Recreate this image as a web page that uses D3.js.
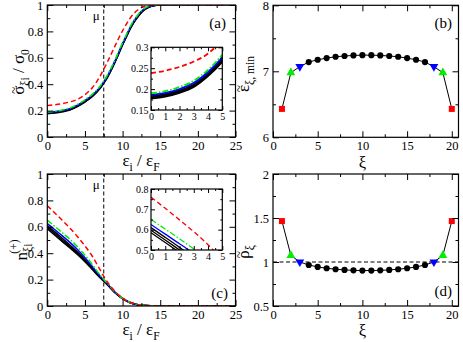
<!DOCTYPE html>
<html>
<head>
<meta charset="utf-8">
<script src="https://cdn.jsdelivr.net/npm/d3@7"></script>
<style>
body { margin: 0; background: #fff; }
text { font-family: "Liberation Serif", "DejaVu Serif", serif; fill: #000; }
</style>
</head>
<body>
<svg id="fig" width="463" height="342"></svg>
<script>
// ---- data ----
// panel (a): sigma~ / sigma0 vs eps_i / eps_F
var sigEps = [0, 1, 2, 3, 4, 5, 6, 7, 7.5, 8, 8.5, 9, 9.5, 10, 10.5, 11, 11.5, 12, 12.5, 13, 13.5, 14, 15, 25];
var sigBlackLo = [0.177, 0.182, 0.191, 0.205, 0.231, 0.265, 0.307, 0.367, 0.407, 0.452, 0.507, 0.567, 0.632, 0.697, 0.757, 0.817, 0.867, 0.907, 0.942, 0.967, 0.983, 0.993, 1, 1];
var sigBlackMid = [0.180, 0.185, 0.194, 0.208, 0.234, 0.268, 0.310, 0.370, 0.410, 0.455, 0.510, 0.570, 0.635, 0.700, 0.760, 0.820, 0.870, 0.910, 0.945, 0.970, 0.985, 0.995, 1, 1];
var sigBlackHi = [0.183, 0.188, 0.197, 0.211, 0.237, 0.271, 0.313, 0.373, 0.413, 0.458, 0.513, 0.573, 0.638, 0.703, 0.763, 0.823, 0.873, 0.913, 0.948, 0.972, 0.987, 0.996, 1, 1];
var sigBlue = [0.186, 0.191, 0.200, 0.215, 0.241, 0.276, 0.318, 0.378, 0.418, 0.463, 0.518, 0.578, 0.643, 0.708, 0.768, 0.828, 0.878, 0.918, 0.952, 0.975, 0.989, 0.997, 1, 1];
var sigGreen = [0.190, 0.195, 0.205, 0.220, 0.246, 0.282, 0.325, 0.385, 0.425, 0.470, 0.525, 0.585, 0.650, 0.715, 0.775, 0.835, 0.884, 0.923, 0.956, 0.978, 0.990, 0.997, 1, 1];
var sigRed = [0.238, 0.244, 0.253, 0.266, 0.285, 0.320, 0.375, 0.460, 0.515, 0.570, 0.630, 0.690, 0.750, 0.805, 0.855, 0.900, 0.935, 0.962, 0.980, 0.990, 0.996, 0.999, 1, 1];

// panel (c): n(+) vs eps_i / eps_F
var nEps = [0, 1, 2, 3, 4, 5, 6, 7, 7.5, 8, 9, 10, 11, 12, 13, 14, 15, 25];
var nBlackLo = [0.585, 0.537, 0.488, 0.440, 0.390, 0.335, 0.275, 0.215, 0.188, 0.160, 0.100, 0.055, 0.025, 0.010, 0.003, 0.001, 0, 0];
var nBlackMid = [0.597, 0.549, 0.500, 0.451, 0.400, 0.343, 0.281, 0.218, 0.190, 0.161, 0.101, 0.055, 0.025, 0.010, 0.003, 0.001, 0, 0];
var nBlackHi = [0.610, 0.562, 0.513, 0.462, 0.410, 0.352, 0.288, 0.222, 0.193, 0.163, 0.102, 0.056, 0.026, 0.010, 0.003, 0.001, 0, 0];
var nBlue = [0.625, 0.578, 0.531, 0.482, 0.428, 0.366, 0.298, 0.228, 0.197, 0.166, 0.104, 0.057, 0.026, 0.010, 0.003, 0.001, 0, 0];
var nGreen = [0.650, 0.603, 0.555, 0.505, 0.449, 0.385, 0.312, 0.236, 0.202, 0.170, 0.106, 0.058, 0.027, 0.011, 0.004, 0.001, 0, 0];
var nRed = [0.760, 0.705, 0.648, 0.590, 0.526, 0.455, 0.375, 0.275, 0.225, 0.180, 0.110, 0.060, 0.028, 0.012, 0.004, 0.001, 0, 0];

var mu = 7.5;

// panels (b), (d): per-site values
var xi = [1, 2, 3, 4, 5, 6, 7, 8, 9, 10, 11, 12, 13, 14, 15, 16, 17, 18, 19, 20];
var epsMin = [6.43, 6.98, 7.07, 7.14, 7.175, 7.20, 7.22, 7.232, 7.24, 7.245, 7.245, 7.24, 7.232, 7.22, 7.20, 7.175, 7.14, 7.07, 6.98, 6.43];
var rho = [1.465, 1.075, 1.0, 0.966, 0.944, 0.929, 0.918, 0.910, 0.905, 0.903, 0.903, 0.905, 0.910, 0.918, 0.929, 0.944, 0.966, 1.0, 1.075, 1.465];
var siteKind = ["sq", "up", "dn", "c", "c", "c", "c", "c", "c", "c", "c", "c", "c", "c", "c", "c", "c", "dn", "up", "sq"];

var RED = "#ff0000", GREEN = "#00ee00", BLUE = "#0000ff";

var svg = d3.select("#fig");
var fmt = function(d) { return String(+d.toFixed(3)); };
var clipId = 0;

// xmgrace style box: ticks inside on all four sides
function box(g, x, y, o) {
  var xr = x.range(), yr = y.range();
  var fs = o.fs + "px";
  function ax(gen, vals, len, lab, tx, ty) {
    var a = g.append("g").attr("transform", "translate(" + tx + "," + ty + ")")
      .call(gen.tickValues(vals).tickSize(-len).tickPadding(o.pad).tickFormat(lab ? fmt : ""));
    a.select(".domain").remove();
    a.selectAll("line").attr("stroke", "#000");
    a.selectAll("text").style("font-size", fs).attr("font-family", null);
  }
  ax(d3.axisBottom(x), o.xMaj, o.maj, true, 0, yr[0]);
  ax(d3.axisBottom(x), o.xMin, o.min, false, 0, yr[0]);
  ax(d3.axisTop(x), o.xMaj, o.maj, false, 0, yr[1]);
  ax(d3.axisTop(x), o.xMin, o.min, false, 0, yr[1]);
  ax(d3.axisLeft(y), o.yMaj, o.maj, true, xr[0], 0);
  ax(d3.axisLeft(y), o.yMin, o.min, false, xr[0], 0);
  ax(d3.axisRight(y), o.yMaj, o.maj, false, xr[1], 0);
  ax(d3.axisRight(y), o.yMin, o.min, false, xr[1], 0);
  g.append("rect").attr("x", xr[0]).attr("y", yr[1])
    .attr("width", xr[1] - xr[0]).attr("height", yr[0] - yr[1])
    .attr("fill", "none").attr("stroke", "#000").attr("stroke-width", 1.2);
}

function clipped(g, x, y) {
  var id = "clip" + (clipId++);
  var xr = x.range(), yr = y.range();
  g.append("clipPath").attr("id", id).append("rect")
    .attr("x", xr[0]).attr("y", yr[1]).attr("width", xr[1] - xr[0]).attr("height", yr[0] - yr[1]);
  return g.append("g").attr("clip-path", "url(#" + id + ")");
}

function curves(g, x, y, xs, list, w) {
  var line = d3.line().curve(d3.curveMonotoneX)
    .x(function(d) { return x(d[0]); }).y(function(d) { return y(d[1]); });
  list.forEach(function(s) {
    g.append("path").datum(d3.zip(xs, s.v)).attr("d", line)
      .attr("fill", "none").attr("stroke", s.c).attr("stroke-width", w)
      .attr("stroke-dasharray", s.dash || null);
  });
}

function sites(g, x, y, vals) {
  g.append("path").datum(d3.zip(xi, vals))
    .attr("d", d3.line().x(function(d) { return x(d[0]); }).y(function(d) { return y(d[1]); }))
    .attr("fill", "none").attr("stroke", "#000").attr("stroke-width", 1);
  var sym = {
    sq: { t: d3.symbolSquare, s: 36, c: RED, r: 0 },
    up: { t: d3.symbolTriangle, s: 34, c: GREEN, r: 0 },
    dn: { t: d3.symbolTriangle, s: 34, c: BLUE, r: 180 },
    c: { t: d3.symbolCircle, s: 30, c: "#000", r: 0 }
  };
  g.selectAll(null).data(d3.zip(xi, vals, siteKind)).join("path")
    .attr("transform", function(d) { return "translate(" + x(d[0]) + "," + y(d[1]) + ") rotate(" + sym[d[2]].r + ")"; })
    .attr("d", function(d) { return d3.symbol(sym[d[2]].t, sym[d[2]].s)(); })
    .attr("fill", function(d) { return sym[d[2]].c; });
}

// label helper: parts = [[text, "n"|"sub"|"sup"]]; tilde over first char if asked
function label(g, parts, fs, tx, ty, rot, withTilde) {
  var tr = "translate(" + tx + "," + ty + ")" + (rot ? " rotate(" + rot + ")" : "");
  var gg = g.append("g").attr("transform", tr);
  var t = gg.append("text").attr("text-anchor", "middle").style("font-size", fs + "px");
  var cur = 0;
  parts.forEach(function(p) {
    var off = p[1] === "sub" ? 0.3 * fs : p[1] === "sup" ? -0.45 * fs : 0;
    t.append("tspan").text(p[0]).attr("dy", off - cur)
      .style("font-size", (p[1] === "n" ? fs : fs * 0.68) + "px");
    cur = off;
  });
  if (withTilde) {
    var ext = t.node().getExtentOfChar(0);
    gg.append("text").attr("text-anchor", "middle")
      .attr("x", ext.x + ext.width / 2).attr("y", -0.38 * fs)
      .style("font-size", (0.75 * fs) + "px").text("~");
  }
  return t;
}

var epsTicks = [0, 5, 10, 15, 20, 25], epsMinor = [2.5, 7.5, 12.5, 17.5, 22.5];
var xiTicks = [0, 5, 10, 15, 20], xiMinor = [2.5, 7.5, 12.5, 17.5];

// ---------- panel (a) ----------
var ga = svg.append("g");
var xa = d3.scaleLinear().domain([0, 25]).range([47.3, 235.5]);
var ya = d3.scaleLinear().domain([0, 1]).range([137, 5]);
var ca = clipped(ga, xa, ya);
ca.append("line").attr("x1", xa(mu)).attr("x2", xa(mu)).attr("y1", ya(0)).attr("y2", ya(1))
  .attr("stroke", "#000").attr("stroke-dasharray", "4,2.5");
var sigList = [
  { v: sigBlackLo, c: "#000" }, { v: sigBlackMid, c: "#000" }, { v: sigBlackHi, c: "#000" },
  { v: sigBlue, c: BLUE }, { v: sigGreen, c: GREEN, dash: "6,2,1.5,2" }, { v: sigRed, c: RED, dash: "5,3" }
];
curves(ca, xa, ya, sigEps, sigList, 1.5);
box(ga, xa, ya, { xMaj: epsTicks, xMin: epsMinor, yMaj: [0, 0.2, 0.4, 0.6, 0.8, 1], yMin: [0.1, 0.3, 0.5, 0.7, 0.9], maj: 6, min: 3, fs: 12.5, pad: 4 });
ga.append("text").attr("x", xa(mu) - 4).attr("y", 20).attr("text-anchor", "end").style("font-size", "13px").text("μ");
ga.append("text").attr("x", 226).attr("y", 28).attr("text-anchor", "end").style("font-size", "15px").text("(a)");

// inset (a)
var xai = d3.scaleLinear().domain([0, 5]).range([151, 222.3]);
var yai = d3.scaleLinear().domain([0.15, 0.3]).range([110, 47.3]);
ga.append("rect").attr("x", 151).attr("y", 47.3).attr("width", 71.3).attr("height", 62.7).attr("fill", "#fff");
curves(clipped(ga, xai, yai), xai, yai, sigEps, sigList, 1.8);
box(ga, xai, yai, { xMaj: [0, 1, 2, 3, 4, 5], xMin: [0.5, 1.5, 2.5, 3.5, 4.5], yMaj: [0.15, 0.2, 0.25, 0.3], yMin: [0.175, 0.225, 0.275], maj: 4, min: 2, fs: 10, pad: 2.5 });

// axis titles (a)
label(ga, [["ε", "n"], ["i", "sub"], [" / ε", "n"], ["F", "sub"]], 17, 141, 166, 0);
label(ga, [["σ", "n"], ["ξi", "sub"], [" / σ", "n"], ["0", "sub"]], 17, 24, 72, -90, true);

// ---------- panel (b) ----------
var gb = svg.append("g");
var xb = d3.scaleLinear().domain([0, 20.75]).range([273, 458.5]);
var yb = d3.scaleLinear().domain([6, 8]).range([137.3, 5.3]);
sites(gb, xb, yb, epsMin);
box(gb, xb, yb, { xMaj: xiTicks, xMin: xiMinor, yMaj: [6, 7, 8], yMin: [6.5, 7.5], maj: 6, min: 3, fs: 12.5, pad: 4 });
gb.append("text").attr("x", 452).attr("y", 28).attr("text-anchor", "end").style("font-size", "15px").text("(b)");
label(gb, [["ξ", "n"]], 16.5, xb(10), 168, 0);
label(gb, [["ε", "n"], ["ξ, min", "sub"]], 17, 249, 74, -90, true);

// ---------- panel (c) ----------
var gc = svg.append("g");
var xc = d3.scaleLinear().domain([0, 25]).range([47.3, 235.5]);
var yc = d3.scaleLinear().domain([0, 1]).range([306, 174]);
var cc = clipped(gc, xc, yc);
cc.append("line").attr("x1", xc(mu)).attr("x2", xc(mu)).attr("y1", yc(0)).attr("y2", yc(1))
  .attr("stroke", "#000").attr("stroke-dasharray", "4,2.5");
var nList = [
  { v: nBlackLo, c: "#000" }, { v: nBlackMid, c: "#000" }, { v: nBlackHi, c: "#000" },
  { v: nBlue, c: BLUE }, { v: nGreen, c: GREEN, dash: "6,2,1.5,2" }, { v: nRed, c: RED, dash: "5,3" }
];
curves(cc, xc, yc, nEps, nList, 1.5);
box(gc, xc, yc, { xMaj: epsTicks, xMin: epsMinor, yMaj: [0, 0.2, 0.4, 0.6, 0.8, 1], yMin: [0.1, 0.3, 0.5, 0.7, 0.9], maj: 6, min: 3, fs: 12.5, pad: 4 });
gc.append("text").attr("x", xc(mu) - 4).attr("y", 189).attr("text-anchor", "end").style("font-size", "13px").text("μ");
gc.append("text").attr("x", 228).attr("y", 298).attr("text-anchor", "end").style("font-size", "15px").text("(c)");

// inset (c)
var xci = d3.scaleLinear().domain([0, 5]).range([151, 222.3]);
var yci = d3.scaleLinear().domain([0.5, 0.8]).range([250, 189]);
gc.append("rect").attr("x", 151).attr("y", 189).attr("width", 71.3).attr("height", 61).attr("fill", "#fff");
curves(clipped(gc, xci, yci), xci, yci, nEps, nList, 1.3);
box(gc, xci, yci, { xMaj: [0, 1, 2, 3, 4, 5], xMin: [0.5, 1.5, 2.5, 3.5, 4.5], yMaj: [0.5, 0.6, 0.7, 0.8], yMin: [0.55, 0.65, 0.75], maj: 4, min: 2, fs: 10, pad: 2.5 });

label(gc, [["ε", "n"], ["i", "sub"], [" / ε", "n"], ["F", "sub"]], 17, 141, 335, 0);
var nl = gc.append("text").attr("transform", "translate(27,250) rotate(-90)").attr("text-anchor", "middle").style("font-size", "17px");
nl.append("tspan").text("n");
nl.append("tspan").text("ξi").style("font-size", "11.5px").attr("dy", 5);
nl.append("tspan").text("(+)").style("font-size", "11.5px").attr("dx", -10).attr("dy", -14);

// ---------- panel (d) ----------
var gd = svg.append("g");
var xd = d3.scaleLinear().domain([0, 20.75]).range([273, 458.5]);
var yd = d3.scaleLinear().domain([0.5, 2]).range([306, 174]);
gd.append("line").attr("x1", xd.range()[0]).attr("x2", xd.range()[1]).attr("y1", yd(1)).attr("y2", yd(1))
  .attr("stroke", "#000").attr("stroke-dasharray", "4,2.5");
sites(gd, xd, yd, rho);
box(gd, xd, yd, { xMaj: xiTicks, xMin: xiMinor, yMaj: [0.5, 1, 1.5, 2], yMin: [0.75, 1.25, 1.75], maj: 6, min: 3, fs: 12.5, pad: 4 });
gd.append("text").attr("x", 452).attr("y", 296).attr("text-anchor", "end").style("font-size", "15px").text("(d)");
label(gd, [["ξ", "n"]], 16.5, xd(10), 336, 0);
label(gd, [["ρ", "n"], ["ξ", "sub"]], 17, 249, 252, -90, true);
</script>
</body>
</html>
